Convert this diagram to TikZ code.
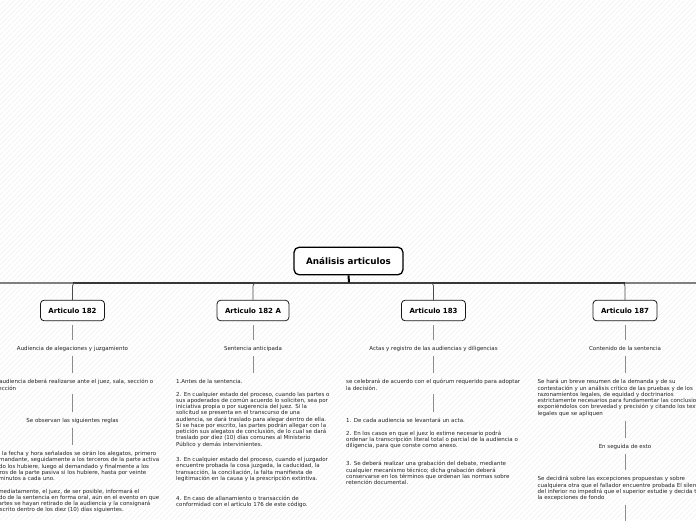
\documentclass[tikz,border=0pt]{standalone}
\usepackage{fontspec}
\setmainfont{DejaVu Sans}
\usetikzlibrary{calc}
\definecolor{trunkcol}{HTML}{2E2E2E}
\definecolor{offcol}{HTML}{808080}
\definecolor{linkcol}{HTML}{8C8C8C}
\definecolor{txtcol}{HTML}{222222}
\begin{document}
\begin{tikzpicture}[x=1pt,y=-1pt,
  txt/.style={font=\fontsize{5.5pt}{6.25pt}\selectfont, text=txtcol, inner sep=0pt},
  lbl/.style={txt, text height=4.2pt, text depth=1.3pt, anchor=base},
  blk/.style={txt, align=left, anchor=north west},
  art/.style={draw=black!90, line width=0.8pt, fill=white, rounded corners=3.5pt,
    font=\fontsize{7pt}{8pt}\selectfont\bfseries, inner xsep=8pt, inner ysep=0pt, minimum height=20.5pt},
  rootbox/.style={draw=black, line width=1.3pt, fill=white, rounded corners=5pt,
    font=\fontsize{8.8pt}{10pt}\selectfont\bfseries, inner xsep=12pt, inner ysep=0pt, minimum height=27.5pt},
  link/.style={draw=linkcol, line width=0.8pt, shorten <=4pt, shorten >=6pt},
  trunk/.style={draw=black, line width=2pt},
  hline/.style={draw=trunkcol, line width=1.6pt},
  offline/.style={draw=offcol, line width=1.6pt},
  drop/.style={draw=black!70, line width=0.8pt, rounded corners=3pt},
  hatch/.style={draw=black!5, line width=0.4pt}]
\useasboundingbox (0,0) rectangle (696,520);
\clip (0,0) rectangle (696,520);
\fill[white] (0,0) rectangle (696,520);
\foreach \i in {-520,-515,...,700} \draw[hatch] (\i,520) -- ++(520,-520);

% root and articles
\node[rootbox] (root) at (348.5,261) {Análisis articulos};
\node[art] (a182)  at (72.5,310.5) {Articulo 182};
\node[art] (a182A) at (253,310.5) {Articulo 182 A};
\node[art] (a183)  at (433.5,310.5) {Articulo 183};
\node[art] (a187)  at (625,310.5) {Articulo 187};

\coordinate (hub) at (349,283);
\coordinate (offL) at (-5,283);
\coordinate (offR) at (701,283);
\draw[offline] (offL) -- (a182.north |- hub);
\draw[offline] (a187.north |- hub) -- (offR);
\draw[hline] (a182.north |- hub) -- (a187.north |- hub);
\draw[trunk] (root.south) -- (hub);
\foreach \n in {a182,a182A,a183,a187} \draw[drop] (hub) -| (\n.north);

% column 1
\node[lbl] (L1) at (72.5,350) {Audiencia de alegaciones y juzgamiento};
\node[blk] (B1a) at (-14.5,379.3) {Esta audiencia deberá realizarse ante el juez, sala, sección o\\subsección};
\node[lbl] (L1b) at (72.5,422) {Se observan las siguientes reglas};
\node[blk] (B1b) at (-14.5,451) {1. En la fecha y hora señalados se oirán los alegatos, primero\\
al demandante, seguidamente a los terceros de la parte activa\\
cuando los hubiere, luego al demandado y finalmente a los\\
terceros de la parte pasiva si los hubiere, hasta por veinte\\
(20) minutos a cada uno.\\[6.25pt]
2. Inmediatamente, el juez, de ser posible, informará el\\
sentido de la sentencia en forma oral, aún en el evento en que\\
las partes se hayan retirado de la audiencia y la consignará\\
por escrito dentro de los diez (10) días siguientes.};
\draw[link] (a182.south) -- (L1.north);
\draw[link] (L1.south) -- (L1.south |- B1a.north);
\draw[link] (L1b.north |- B1a.south) -- (L1b.north);
\draw[link] (L1b.south) -- (L1b.south |- B1b.north);

% column 2
\node[lbl] (L2) at (253,350) {Sentencia anticipada};
\node[blk] (B2) at (176,379.2) {1.Antes de la sentencia.\\[6.25pt]
2. En cualquier estado del proceso, cuando las partes o\\
sus apoderados de común acuerdo lo soliciten, sea por\\
iniciativa propia o por sugerencia del juez. Si la\\
solicitud se presenta en el transcurso de una\\
audiencia, se dará traslado para alegar dentro de ella.\\
Si se hace por escrito, las partes podrán allegar con la\\
petición sus alegatos de conclusión, de lo cual se dará\\
traslado por diez (10) días comunes al Ministerio\\
Público y demás intervinientes.\\[9.4pt]
3. En cualquier estado del proceso, cuando el juzgador\\
encuentre probada la cosa juzgada, la caducidad, la\\
transacción, la conciliación, la falta manifiesta de\\
legitimación en la causa y la prescripción extintiva.\\[13.7pt]
4. En caso de allanamiento o transacción de\\
conformidad con el artículo 176 de este código.};
\draw[link] (a182A.south) -- (L2.north);
\draw[link] (L2.south) -- (L2.south |- B2.north);

% column 3
\node[lbl] (L3) at (433.5,350) {Actas y registro de las audiencias y diligencias};
\node[blk] (B3a) at (346,379.3) {se celebrará de acuerdo con el quórum requerido para adoptar\\la decisión.};
\node[blk] (B3b) at (346,417.8) {1. De cada audiencia se levantará un acta.\\[6.4pt]
2. En los casos en que el juez lo estime necesario podrá\\
ordenar la transcripción literal total o parcial de la audiencia o\\
diligencia, para que conste como anexo.\\[12pt]
3. Se deberá realizar una grabación del debate, mediante\\
cualquier mecanismo técnico; dicha grabación deberá\\
conservarse en los términos que ordenan las normas sobre\\
retención documental.};
\draw[link] (a183.south) -- (L3.north);
\draw[link] (L3.south) -- (L3.south |- B3a.north);
\draw[link] (L3.south |- B3a.south) -- (L3.south |- B3b.north);

% column 4
\node[lbl] (L4) at (625,350) {Contenido de la sentencia};
\node[blk] (B4a) at (537.5,379.3) {Se hará un breve resumen de la demanda y de su\\
contestación y un análisis crítico de las pruebas y de los\\
razonamientos legales, de equidad y doctrinarios\\
estrictamente necesarios para fundamentar las conclusiones,\\
exponiéndolos con brevedad y precisión y citando los textos\\
legales que se apliquen};
\node[lbl] (L4b) at (625,448) {En seguida de esto};
\node[blk] (B4b) at (537.5,476.3) {Se decidirá sobre las excepciones propuestas y sobre\\
cualquiera otra que el fallador encuentre probada El silencio\\
del inferior no impedirá que el superior estudie y decida todas\\
la excepciones de fondo};
\coordinate (c4end) at (625,530);
\draw[link] (a187.south) -- (L4.north);
\draw[link] (L4.south) -- (L4.south |- B4a.north);
\draw[link] (L4b.north |- B4a.south) -- (L4b.north);
\draw[link] (L4b.south) -- (L4b.south |- B4b.north);
\draw[link] (L4b.south |- B4b.south) -- (c4end);
\end{tikzpicture}
\end{document}
